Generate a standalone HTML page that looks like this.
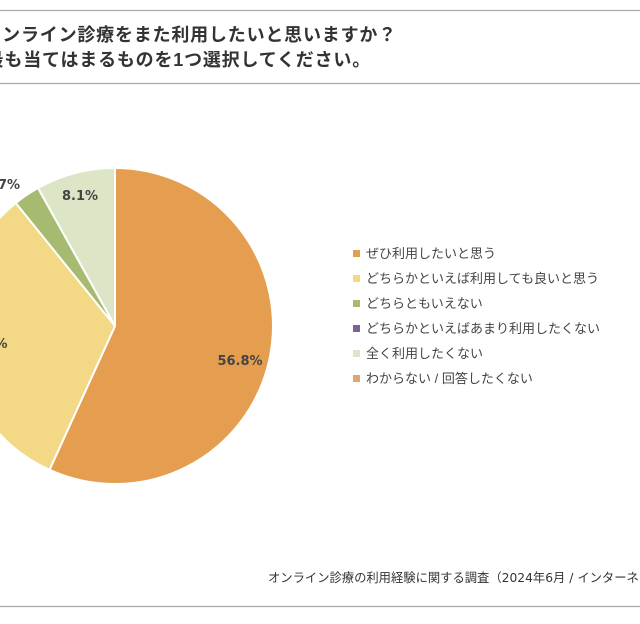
<!DOCTYPE html>
<html><head><meta charset="utf-8"><style>
html,body{margin:0;padding:0;background:#fff;width:640px;height:624px;overflow:hidden}
text{font-family:"Liberation Sans","Noto Sans CJK JP",sans-serif}
.dv{font-family:"DejaVu Sans","Noto Sans CJK JP",sans-serif}
</style></head><body>
<svg width="640" height="624" viewBox="0 0 640 624" xmlns="http://www.w3.org/2000/svg">
<line x1="0" y1="10.5" x2="640" y2="10.5" stroke="#aaa" stroke-width="1.2"/>
<line x1="0" y1="83.5" x2="640" y2="83.5" stroke="#aaa" stroke-width="1.2"/>
<line x1="0" y1="606.5" x2="640" y2="606.5" stroke="#aaa" stroke-width="1.2"/>
<g font-size="18" font-weight="bold" fill="#333" text-anchor="end" letter-spacing="0.8">
<text x="397" y="41">Q. オンライン診療をまた利用したいと思いますか？</text>
<text x="371" y="66">最も当てはまるものを1つ選択してください。</text>
</g>
<g stroke="#fff" stroke-width="2" stroke-linejoin="round">
<path d="M115,326 L115,168 A158,158 0 1 1 49.5,469.8 Z" fill="#e59e4f"/>
<path d="M115,326 L49.5,469.8 A158,158 0 0 1 15.8,203 Z" fill="#f3d886"/>
<path d="M115,326 L15.8,203 A158,158 0 0 1 38,188 Z" fill="#a6bb6f"/>
<path d="M115,326 L38,188 A158,158 0 0 1 115,168 Z" fill="#dce5c6"/>
</g>
<g class="dv" font-size="13" font-weight="bold" fill="#444" text-anchor="middle">
<text class="dv" x="240" y="365">56.8%</text>
<text class="dv" x="80" y="200">8.1%</text>
<text class="dv" x="2" y="189">2.7%</text>
<text class="dv" x="-15" y="348">32.4%</text>
</g>
<g font-size="13" fill="#444">
<rect x="353" y="250" width="7" height="7" fill="#e59e4f"/><text x="366" y="258">ぜひ利用したいと思う</text>
<rect x="353" y="275" width="7" height="7" fill="#f3d886"/><text x="366" y="283">どちらかといえば利用しても良いと思う</text>
<rect x="353" y="300" width="7" height="7" fill="#a6bb6f"/><text x="366" y="308">どちらともいえない</text>
<rect x="353" y="325" width="7" height="7" fill="#7a6496"/><text x="366" y="333">どちらかといえばあまり利用したくない</text>
<rect x="353" y="350" width="7" height="7" fill="#dce5c6"/><text x="366" y="358">全く利用したくない</text>
<rect x="353" y="375" width="7" height="7" fill="#e0a66a"/><text x="366" y="383">わからない / 回答したくない</text>
</g>
<text class="dv" x="268" y="582" font-size="12.3" fill="#333">オンライン診療の利用経験に関する調査（2024年6月 / インターネット調査）</text>
</svg>
</body></html>
